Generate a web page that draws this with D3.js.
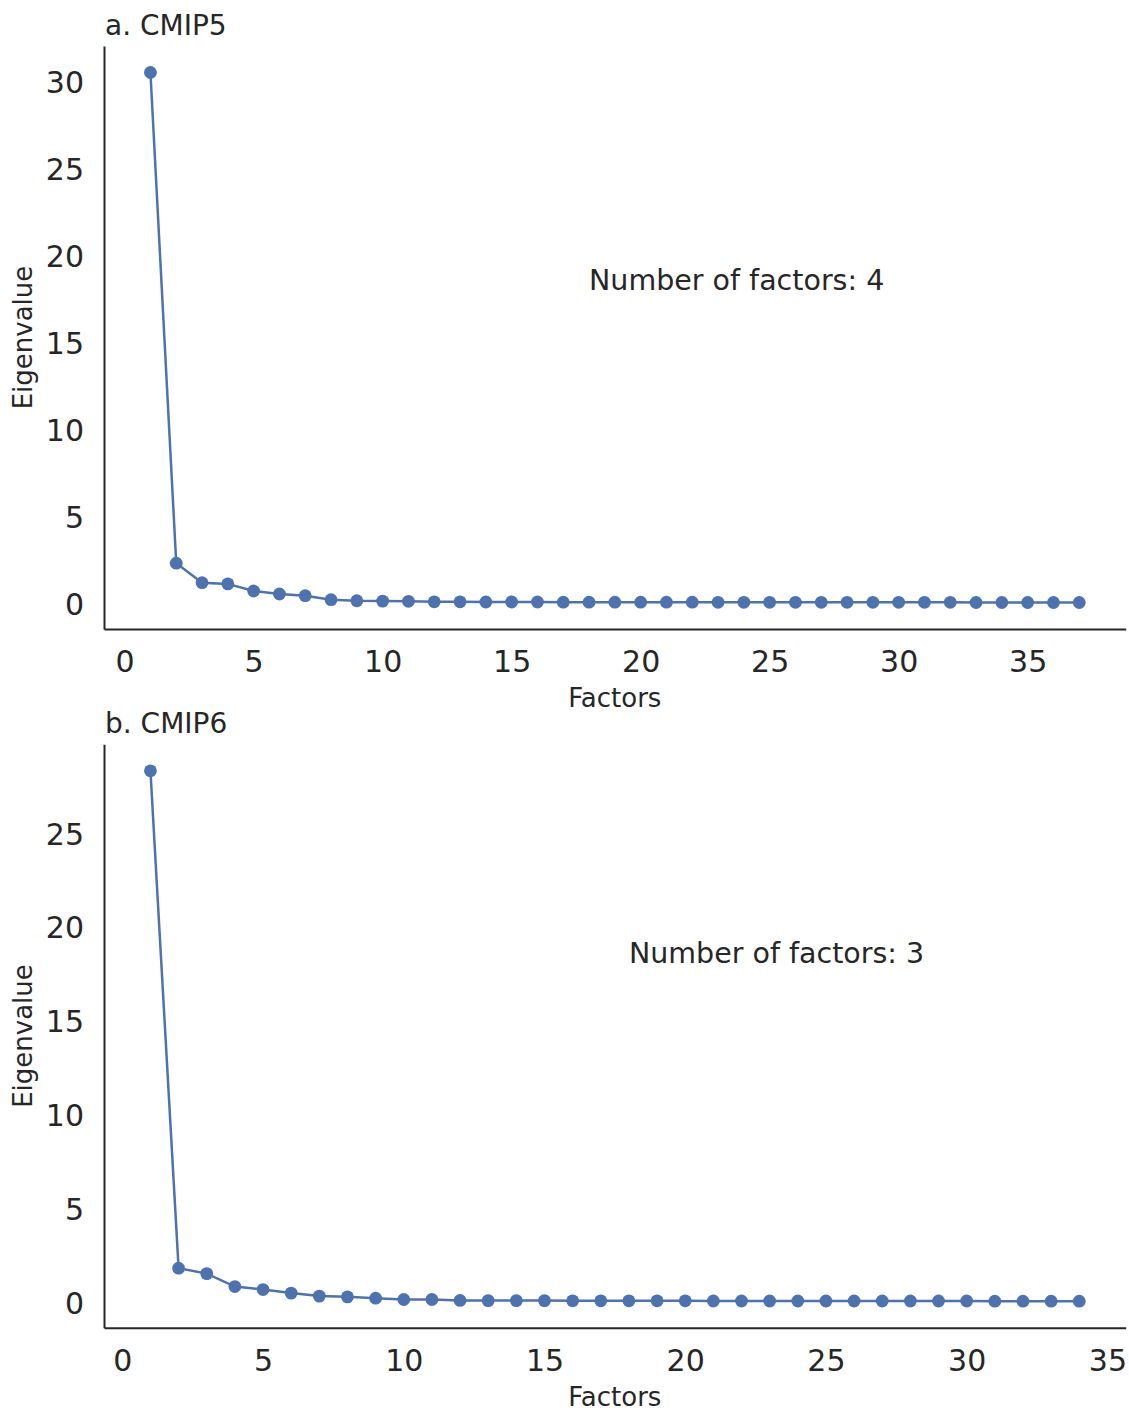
<!DOCTYPE html>
<html>
<head>
<meta charset="utf-8">
<script src="https://cdn.jsdelivr.net/npm/d3@7"></script>
<style>
  body { margin: 0; background: #fff; }
  text { font-family: "DejaVu Sans", sans-serif; fill: #262626; }
</style>
</head>
<body>
<svg id="chart" width="1129" height="1411"></svg>
<script>
// eigenvalues
const cmip5Values = [30.48, 2.26, 1.14, 1.07, 0.66, 0.49, 0.39, 0.16, 0.10, 0.08, 0.07,
  0.04, 0.04, 0.03, 0.03, 0.03, 0.02, 0.02, 0.02, 0.02, 0.02, 0.02, 0.01, 0.01, 0.01,
  0.01, 0.01, 0.01, 0.01, 0.01, 0.01, 0.01, 0.00, 0.00, 0.00, 0.00, 0.00];
const cmip6Values = [28.27, 1.76, 1.47, 0.78, 0.62, 0.43, 0.27, 0.23, 0.16, 0.09, 0.09,
  0.04, 0.03, 0.03, 0.03, 0.02, 0.02, 0.02, 0.02, 0.02, 0.01, 0.01, 0.01, 0.01, 0.01,
  0.01, 0.01, 0.01, 0.01, 0.01, 0.00, 0.00, 0.00, 0.00];
const cmip5Ticks = [0, 5, 10, 15, 20, 25, 30];
const cmip6Ticks = [0, 5, 10, 15, 20, 25];
const xTicks5 = [0, 5, 10, 15, 20, 25, 30, 35];
const xTicks6 = [0, 5, 10, 15, 20, 25, 30, 35];
const titles = ["a. CMIP5", "b. CMIP6"];
const notes = ["Number of factors: 4", "Number of factors: 3"];

const color = "#4c72b0";
const svg = d3.select("#chart");
const left = 104, right = 1125.7;

// matplotlib style 5% margins
function padded(lo, hi) {
  const p = (hi - lo) * 0.05;
  return [lo - p, hi + p];
}

function panel(values, yTicks, xTicks, title, note, top, bottom) {
  const pts = values.map((v, i) => ({ f: i + 1, v: v }));
  const x = d3.scaleLinear().domain(padded(1, values.length)).range([left, right]);
  const y = d3.scaleLinear().domain(padded(d3.min(values), d3.max(values))).range([bottom, top]);
  const g = svg.append("g");

  const xAxis = g.append("g")
    .attr("transform", "translate(0," + bottom + ")")
    .call(d3.axisBottom(x).tickValues(xTicks).tickSize(0).tickPadding(22).tickFormat(d3.format("d")));
  xAxis.select(".domain").attr("stroke", "#262626").attr("stroke-width", 2);
  xAxis.selectAll(".tick text").attr("font-size", 30).attr("font-family", "DejaVu Sans").attr("fill", "#262626");

  const yAxis = g.append("g")
    .attr("transform", "translate(" + left + ",0)")
    .call(d3.axisLeft(y).tickValues(yTicks).tickSize(0).tickPadding(20).tickFormat(d3.format("d")));
  yAxis.select(".domain").attr("stroke", "#262626").attr("stroke-width", 2);
  yAxis.selectAll(".tick text").attr("font-size", 30).attr("font-family", "DejaVu Sans")
    .attr("fill", "#262626").attr("dy", "0.4em");

  g.append("path")
    .datum(pts)
    .attr("fill", "none")
    .attr("stroke", color)
    .attr("stroke-width", 2.5)
    .attr("d", d3.line().x(d => x(d.f)).y(d => y(d.v)));

  g.selectAll("circle")
    .data(pts)
    .enter()
    .append("circle")
    .attr("cx", d => x(d.f))
    .attr("cy", d => y(d.v))
    .attr("r", 6.4)
    .attr("fill", color);

  g.append("text")
    .attr("x", 105)
    .attr("y", top - 11)
    .attr("font-size", 28)
    .text(title);

  g.append("text")
    .attr("x", x(18))
    .attr("y", y(18))
    .attr("font-size", 28.5)
    .text(note);

  g.append("text")
    .attr("x", (left + right) / 2)
    .attr("y", bottom + 78)
    .attr("text-anchor", "middle")
    .attr("font-size", 26)
    .text("Factors");

  g.append("text")
    .attr("transform", "translate(32," + (top + bottom) / 2 + ")rotate(-90)")
    .attr("text-anchor", "middle")
    .attr("font-size", 26)
    .text("Eigenvalue");
}

panel(cmip5Values, cmip5Ticks, xTicks5, titles[0], notes[0], 46, 629);
panel(cmip6Values, cmip6Ticks, xTicks6, titles[1], notes[1], 744.3, 1327.7);
</script>
</body>
</html>
